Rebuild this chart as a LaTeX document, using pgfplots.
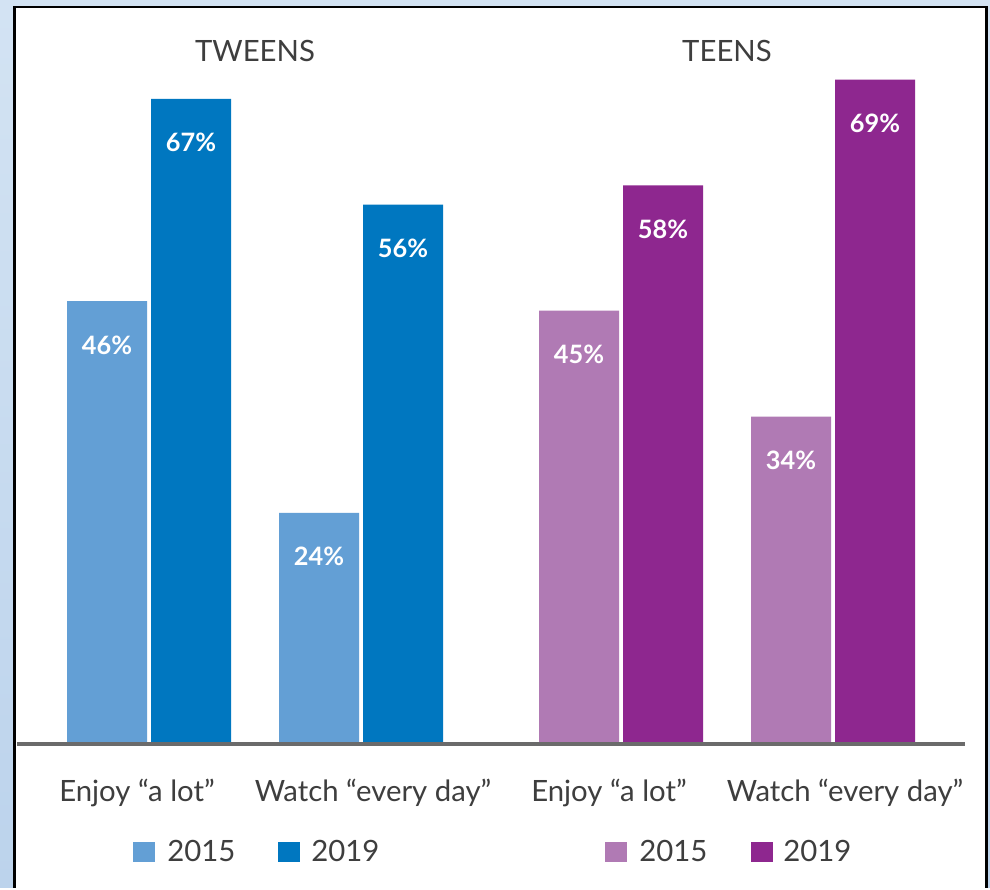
\documentclass[border=0pt]{standalone}
\usepackage{pgfplots}
\pgfplotsset{compat=1.18}
\usepackage{fontspec}
\setmainfont{Lato}

\definecolor{twA}{HTML}{639FD5}
\definecolor{twB}{HTML}{0077C0}
\definecolor{teA}{HTML}{B07AB4}
\definecolor{teB}{HTML}{8E278F}
\definecolor{txt}{HTML}{3E3E3E}
\definecolor{bgblue}{HTML}{D3E3F3}
\definecolor{bgblue2}{HTML}{BCD3EC}

\begin{document}
\begin{tikzpicture}
\begin{axis}[
    set layers, x=0.75pt, y=7.2225pt,
    xmin=0, xmax=990, ymin=-14.953, ymax=77.259,
    hide axis, clip=false,
    ybar, bar width=80, bar shift=0pt,
    /pgf/number format/assume math mode=true,
    nodes near coords={\pgfmathprintnumber{\pgfplotspointmeta}\%},
    every node near coord/.append style={anchor=base, yshift=-39.75pt,
        text=white, font=\fontsize{19}{20}\selectfont\bfseries},
    every axis plot/.append style={draw=none},
]
% background and frame
\begin{pgfonlayer}{axis background}
\shade[top color=bgblue, bottom color=bgblue2] (axis cs:0,77.259) rectangle (axis cs:990,-14.953);
\fill[white] (axis cs:14.5,76.53) rectangle (axis cs:986.5,-14.953);
\draw[black, line width=1.9pt] (axis cs:14.5,-14.953) -- (axis cs:14.5,76.53) -- (axis cs:986.5,76.53) -- (axis cs:986.5,-14.953);
\end{pgfonlayer}

% tweens
\addplot[fill=twA] coordinates {(107,46) (319,24)};
\addplot[fill=twB] coordinates {(191,67) (403,56)};
% teens
\addplot[fill=teA] coordinates {(579,45) (791,34)};
\addplot[fill=teB] coordinates {(663,58) (875,69)};

\draw[color=black!58, line width=2.3pt] (axis cs:17,0) -- (axis cs:965,0);

\begin{scope}[font=\fontsize{22}{24}\selectfont, text=txt]
\node[anchor=base] at (axis cs:255,70.82) {TWEENS};
\node[anchor=base] at (axis cs:727,70.82) {TEENS};
\node[anchor=base] at (axis cs:137,-6.02) {Enjoy “a lot”};
\node[anchor=base] at (axis cs:373,-6.02) {Watch “every day”};
\node[anchor=base] at (axis cs:609,-6.02) {Enjoy “a lot”};
\node[anchor=base] at (axis cs:845,-6.02) {Watch “every day”};
% legends
\fill[twA] (axis cs:133,-10.18) rectangle (axis cs:155,-12.25);
\fill[twB] (axis cs:278,-10.18) rectangle (axis cs:300,-12.25);
\fill[teA] (axis cs:605,-10.18) rectangle (axis cs:627,-12.25);
\fill[teB] (axis cs:751,-10.18) rectangle (axis cs:773,-12.25);
\node[anchor=base west, inner sep=0pt] at (axis cs:167,-12.25) {2015};
\node[anchor=base west, inner sep=0pt] at (axis cs:311,-12.25) {2019};
\node[anchor=base west, inner sep=0pt] at (axis cs:639,-12.25) {2015};
\node[anchor=base west, inner sep=0pt] at (axis cs:783,-12.25) {2019};
\end{scope}
\end{axis}
\end{tikzpicture}
\end{document}
